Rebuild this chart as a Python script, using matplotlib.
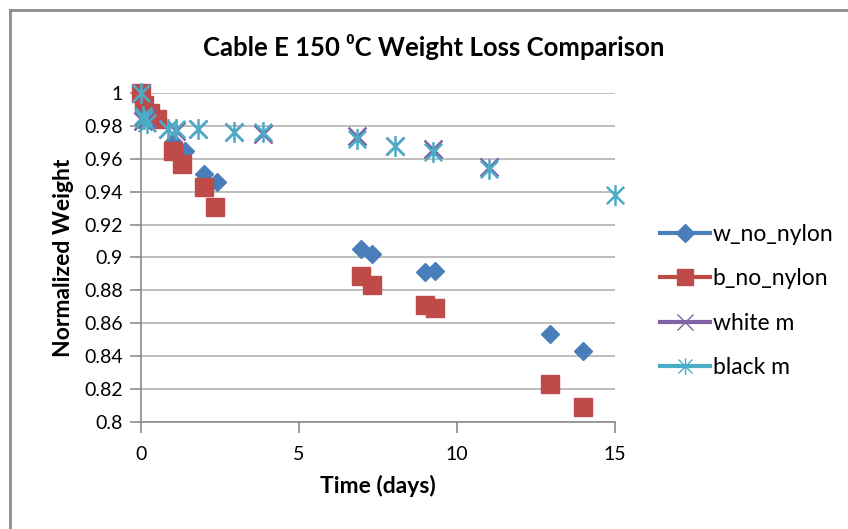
import matplotlib
matplotlib.use("Agg")
import matplotlib.pyplot as plt
from matplotlib.path import Path
from matplotlib.lines import Line2D

plt.rcParams['font.family'] = ['Lato', 'DejaVu Sans']

title = "Cable E 150 \u2070C Weight Loss Comparison"
xlabel = "Time (days)"
ylabel = "Normalized Weight"

w_x = [0, 0.1, 0.3, 0.5, 1.0, 1.4, 2.0, 2.4, 6.95, 7.3, 9.0, 9.3, 12.95, 14.0]
w_y = [1.0, 0.994, 0.989, 0.985, 0.970, 0.965, 0.951, 0.946, 0.905, 0.902, 0.891, 0.892, 0.8535, 0.843]

b_x = [0, 0.1, 0.3, 0.5, 1.0, 1.3, 2.0, 2.35, 6.95, 7.3, 9.0, 9.3, 12.95, 14.0]
b_y = [1.0, 0.993, 0.988, 0.984, 0.965, 0.957, 0.943, 0.931, 0.889, 0.883, 0.871, 0.869, 0.823, 0.809]

wm_x = [0, 0.05, 0.1, 0.2, 0.85, 1.1, 1.8, 2.95, 3.85, 6.85, 8.05, 9.25, 11.0]
wm_y = [1.0, 0.983, 0.986, 0.984, 0.978, 0.977, 0.978, 0.976, 0.975, 0.974, 0.968, 0.966, 0.955]

bm_x = [0, 0.05, 0.1, 0.2, 0.85, 1.1, 1.8, 2.95, 3.85, 6.85, 8.05, 9.25, 11.0, 15.0]
bm_y = [1.0, 0.986, 0.984, 0.982, 0.978, 0.978, 0.978, 0.976, 0.976, 0.972, 0.968, 0.964, 0.954, 0.938]

labels = ["w_no_nylon", "b_no_nylon", "white m", "black m"]
colors = ["#4A7EBB", "#BE4B48", "#7E62A1", "#4BACC6"]

# asterisk marker: x plus vertical line
ast = Path([(-0.5, -0.5), (0.5, 0.5), (-0.5, 0.5), (0.5, -0.5), (0, -0.6), (0, 0.6)],
           [Path.MOVETO, Path.LINETO, Path.MOVETO, Path.LINETO, Path.MOVETO, Path.LINETO])

fig = plt.figure(figsize=(8.48, 5.29), dpi=100)
ax = fig.add_axes([141/848, 107/529, 474/848, 329/529])

ax.plot(w_x, w_y, linestyle='none', marker='D', ms=9, color=colors[0], mec=colors[0], clip_on=False, zorder=3)
ax.plot(b_x, b_y, linestyle='none', marker='s', ms=12.5, color=colors[1], mec=colors[1], clip_on=False, zorder=4)
ax.plot(wm_x, wm_y, linestyle='none', marker='x', ms=13, mew=1.8, color=colors[2], clip_on=False, zorder=5)
ax.plot(bm_x, bm_y, linestyle='none', marker=ast, ms=15, mew=1.8, color=colors[3], clip_on=False, zorder=6)

ax.set_xlim(0, 15)
ax.set_ylim(0.8, 1.0)
ax.set_xticks([0, 5, 10, 15])
ax.set_yticks([0.8, 0.82, 0.84, 0.86, 0.88, 0.9, 0.92, 0.94, 0.96, 0.98, 1.0])
ax.set_yticklabels(["0.8", "0.82", "0.84", "0.86", "0.88", "0.9", "0.92", "0.94", "0.96", "0.98", "1"])
ax.yaxis.grid(True, color="#B3B3B3", lw=1.2)
ax.set_axisbelow(True)
for s in ['top', 'right']:
    ax.spines[s].set_visible(False)
for s in ['left', 'bottom']:
    ax.spines[s].set_color("#8C8C8C")
    ax.spines[s].set_linewidth(1.2)
ax.tick_params(axis='both', direction='out', length=8, width=1.2, color="#8C8C8C",
               labelsize=14, pad=5)
ax.tick_params(axis='x', pad=9)

ax.set_xlabel(xlabel, fontsize=16.5, fontweight='bold', labelpad=9)
ax.set_ylabel(ylabel, fontsize=16.5, fontweight='bold', labelpad=7)
fig.text(434/848, 1 - 47/529, title, fontsize=18.5, fontweight='bold', ha='center', va='center')

handles = [
    Line2D([], [], color=colors[0], lw=3, marker='D', ms=9),
    Line2D([], [], color=colors[1], lw=3, marker='s', ms=12),
    Line2D([], [], color=colors[2], lw=3, marker='x', ms=11, mew=1),
    Line2D([], [], color=colors[3], lw=3, marker=ast, ms=12, mew=1),
]
fig.legend(handles, labels, loc='center left', bbox_to_anchor=(660/848, 1 - 301/529),
           frameon=False, fontsize=16.5, handlelength=2.2, handletextpad=0.1,
           labelspacing=1.02, borderpad=0, borderaxespad=0)

# chart border (partially visible)
fig.add_artist(Line2D([10/848, 10/848], [0, 1 - 10/529], color="#8C8C8C", lw=2, transform=fig.transFigure))
fig.add_artist(Line2D([10/848, 1], [1 - 10/529, 1 - 10/529], color="#8C8C8C", lw=2, transform=fig.transFigure))

fig.savefig("out.png", dpi=100)
